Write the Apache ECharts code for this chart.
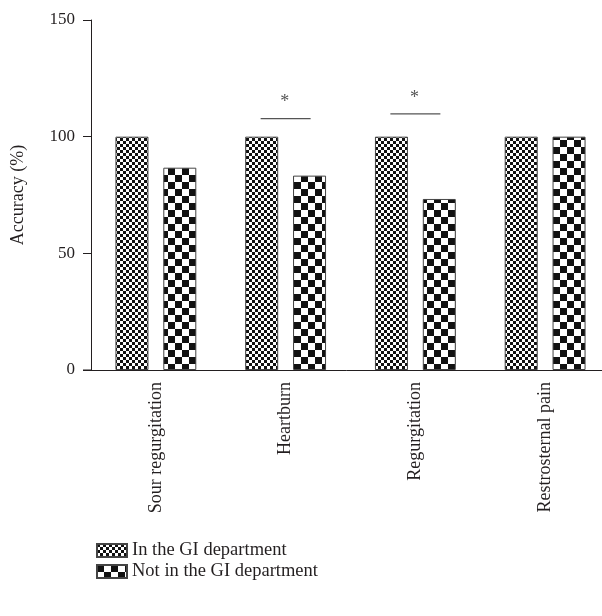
<!DOCTYPE html>
<html>
<head>
<meta charset="utf-8">
<script src="https://cdn.jsdelivr.net/npm/echarts@6/dist/echarts.min.js"></script>
<style>
  html, body { margin: 0; padding: 0; background: #fff; }
  #chart { width: 602px; height: 616px; }
</style>
</head>
<body>
<div id="chart"></div>
<script>
var categories = ["Sour regurgitation", "Heartburn", "Regurgitation", "Restrosternal pain"];
var inGI = [100, 100, 100, 100];
var notInGI = [86.7, 83.3, 73.3, 100];
var yTicks = [0, 50, 100, 150];
// significance brackets: category index, height of the line
var sigIndex = [1, 2];
var sigLevel = [107.7, 109.8];

function checker(cell) {
  var c = document.createElement("canvas");
  c.width = cell * 2;
  c.height = cell * 2;
  var ctx = c.getContext("2d");
  ctx.fillStyle = "#fff";
  ctx.fillRect(0, 0, c.width, c.height);
  ctx.fillStyle = "#111";
  ctx.fillRect(0, 0, cell, cell);
  ctx.fillRect(cell, cell, cell, cell);
  return { image: c, repeat: "repeat" };
}

var font = "Liberation Serif";
var ink = "#231f20";

var chartDom = document.getElementById("chart");
var myChart = echarts.init(chartDom);
var option;

option = {
  animation: false,
  textStyle: { fontFamily: font, color: ink },
  grid: {
    left: 91,
    top: 20,
    width: 519,
    height: 350,
    outerBoundsMode: "none",
    containLabel: false,
  },
  legend: {
    orient: "vertical",
    left: 91,
    top: 536,
    icon: "rect",
    itemWidth: 30,
    itemHeight: 13,
    itemGap: 2,
    textStyle: { fontFamily: font, fontSize: 18.5, color: ink },
    data: ["In the GI department", "Not in the GI department"],
  },
  xAxis: {
    type: "category",
    data: categories,
    axisLine: { lineStyle: { color: ink, width: 1 } },
    axisTick: { alignWithLabel: true, length: 7, lineStyle: { color: ink } },
    axisLabel: {
      rotate: 90,
      fontFamily: font,
      fontSize: 18,
      color: ink,
      margin: 12,
    },
  },
  yAxis: {
    type: "value",
    min: 0,
    max: 150,
    interval: 50,
    name: "Accuracy (%)",
    nameLocation: "middle",
    nameGap: 64,
    nameTextStyle: { fontFamily: font, fontSize: 18, color: ink },
    axisLine: { show: true, lineStyle: { color: ink, width: 1 } },
    axisTick: { show: true, length: 8, lineStyle: { color: ink } },
    axisLabel: {
      fontFamily: font,
      fontSize: 17,
      color: ink,
      margin: 16,
      formatter: function (v) {
        return yTicks.indexOf(v) >= 0 ? String(v) : "";
      },
    },
    splitLine: { show: false },
  },
  series: [
    {
      name: "In the GI department",
      type: "bar",
      data: inGI,
      barWidth: 33,
      barGap: "45%",
      itemStyle: { color: checker(3), borderColor: "#444", borderWidth: 1 },
    },
    {
      name: "Not in the GI department",
      type: "bar",
      data: notInGI,
      barWidth: 33,
      barGap: "45%",
      itemStyle: { color: checker(7), borderColor: "#444", borderWidth: 1 },
    },
    {
      type: "custom",
      silent: true,
      z: 5,
      data: sigIndex.map(function (c, i) {
        return [c, sigLevel[i]];
      }),
      renderItem: function (params, api) {
        var p = api.coord([api.value(0), api.value(1)]);
        var half = 25;
        return {
          type: "group",
          children: [
            {
              type: "line",
              shape: { x1: p[0] - half, y1: p[1], x2: p[0] + half, y2: p[1] },
              style: { stroke: "#555", lineWidth: 1.2 },
            },
            {
              type: "text",
              style: {
                x: p[0] - 1,
                y: p[1] - 7,
                text: "*",
                fill: "#555",
                font: "18px " + font,
                align: "center",
                verticalAlign: "bottom",
              },
            },
          ],
        };
      },
    },
  ],
  graphic: [
    {
      type: "line",
      shape: { x1: 83, y1: 370, x2: 91, y2: 370 },
      style: { stroke: ink, lineWidth: 1 },
    },
  ],
};

option && myChart.setOption(option);
window.addEventListener("resize", function () {
  myChart.resize();
});
</script>
</body>
</html>
